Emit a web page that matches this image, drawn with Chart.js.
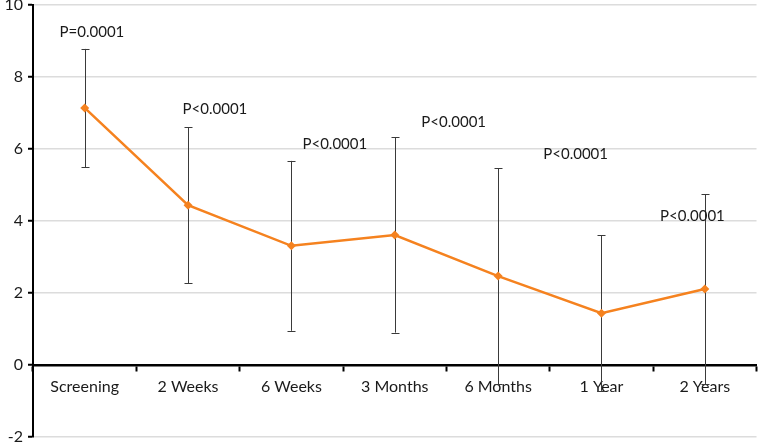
<!DOCTYPE html>
<html>
<head>
<meta charset="utf-8">
<script src="https://cdn.jsdelivr.net/npm/chart.js@4.4.1/dist/chart.umd.min.js"></script>
<style>
  body { margin: 0; background: #fff; }
  #wrap { width: 761px; height: 445px; }
</style>
</head>
<body>
<div id="wrap"><canvas id="chart"></canvas></div>
<script>
'use strict';
// данные с графика
const categories = ['Screening', '2 Weeks', '6 Weeks', '3 Months', '6 Months', '1 Year', '2 Years'];
const meanValues = [7.14, 4.44, 3.31, 3.61, 2.47, 1.44, 2.11];
const errorValues = [1.64, 2.17, 2.36, 2.71, 3.0, 2.16, 2.64];
const yTicks = [-2, 10, 2];  // min, max, step

// подписи P-значений (координаты в единицах осей)
const pLabels = ['P=0.0001', 'P<0.0001', 'P<0.0001', 'P<0.0001', 'P<0.0001', 'P<0.0001'];
const pLabelX = [0.07, 1.26, 2.42, 3.57, 4.75, 5.88];
const pLabelY = [9.25, 7.11, 6.14, 6.75, 5.86, 4.14];

const FONT = "Lato, 'Liberation Sans', sans-serif";

const errorBars = {
    id: 'errorBars',
    beforeDatasetsDraw(chart) {
        const { ctx, scales: { x, y } } = chart;
        ctx.save();
        ctx.strokeStyle = '#3a3a3a';
        ctx.lineWidth = 1;
        meanValues.forEach((v, i) => {
            const px = Math.round(x.getPixelForValue(i)) + 0.5;
            const top = y.getPixelForValue(v + errorValues[i]);
            const bot = y.getPixelForValue(v - errorValues[i]);
            ctx.beginPath();
            ctx.moveTo(px, top);
            ctx.lineTo(px, bot);
            ctx.moveTo(px - 4, Math.round(top) + 0.5);
            ctx.lineTo(px + 4, Math.round(top) + 0.5);
            ctx.moveTo(px - 4, Math.round(bot) + 0.5);
            ctx.lineTo(px + 4, Math.round(bot) + 0.5);
            ctx.stroke();
        });
        ctx.restore();
    },
    afterDatasetsDraw(chart) {
        const { ctx, scales: { x, y } } = chart;
        ctx.save();
        ctx.fillStyle = '#1a1a1a';
        ctx.font = '15px ' + FONT;
        ctx.textAlign = 'center';
        ctx.textBaseline = 'middle';
        pLabels.forEach((t, i) => {
            ctx.fillText(t, x.getPixelForValue(pLabelX[i]), y.getPixelForValue(pLabelY[i]));
        });
        ctx.restore();
    }
};

const ctx = document.getElementById('chart').getContext('2d');
new Chart(ctx, {
    type: 'line',
    data: {
        labels: categories,
        datasets: [{
            data: meanValues,
            borderColor: '#F5821F',
            backgroundColor: '#F5821F',
            borderWidth: 2.5,
            pointStyle: 'rectRot',
            pointRadius: 4.5,
            pointBorderWidth: 0,
            tension: 0
        }]
    },
    options: {
        responsive: true,
        maintainAspectRatio: false,
        animation: false,
        layout: { padding: { top: 5, right: 2, left: 0, bottom: 8 } },
        plugins: {
            legend: { display: false },
            tooltip: { enabled: false }
        },
        scales: {
            x: {
                position: { y: 0 },
                offset: true,
                grid: {
                    offset: true,
                    drawOnChartArea: false,
                    tickLength: 5,
                    tickColor: '#000',
                    tickWidth: 2
                },
                border: { color: '#000', width: 2.5 },
                ticks: {
                    color: '#1a1a1a',
                    font: { family: FONT, size: 16 },
                    padding: 7,
                    maxRotation: 0
                }
            },
            y: {
                min: yTicks[0],
                max: yTicks[1],
                ticks: {
                    stepSize: yTicks[2],
                    color: '#1a1a1a',
                    font: { family: FONT, size: 16 },
                    padding: 5
                },
                grid: {
                    color: '#dcdcdc',
                    lineWidth: 1.5,
                    tickLength: 5,
                    tickColor: '#000',
                    tickWidth: 2
                },
                border: { color: '#000', width: 2 },
                afterFit(scale) {
                    scale.width = 33;
                    scale.paddingTop = 0;
                    scale.paddingBottom = 0;
                }
            }
        }
    },
    plugins: [errorBars]
});
</script>
</body>
</html>
